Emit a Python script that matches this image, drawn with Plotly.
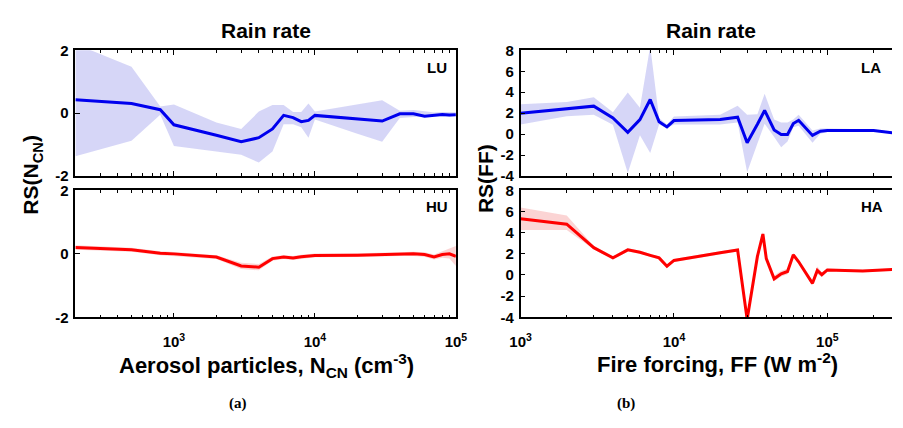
import math
import plotly.graph_objects as go

# ---- (a) response to aerosol particles, N_CN (cm^-3) ----
ncn_lu = [200, 500, 800, 1000, 2000, 3000, 4000, 5000, 6000, 7000, 8000, 9000,
          10000, 20000, 30000, 40000, 50000, 60000, 70000, 80000, 90000, 100000]
lu_mean = [0.43, 0.31, 0.11, -0.37, -0.70, -0.91, -0.78, -0.50, -0.07, -0.14, -0.27, -0.23,
           -0.07, -0.18, -0.25, -0.02, -0.02, -0.10, -0.08, -0.04, -0.06, -0.05]
lu_upper = [2.20, 1.48, 0.21, 0.28, -0.30, -0.50, 0.05, 0.26, 0.26, 0.04, 0.04, 0.31,
            0.05, 0.28, 0.41, 0.08, 0.10, 0.06, 0.02, 0.04, 0.04, 0.03]
lu_lower = [-1.37, -0.88, -0.05, -1.04, -1.22, -1.32, -1.57, -1.22, -0.35, -0.35, -0.45, -0.78,
            -0.20, -0.65, -0.91, -0.15, -0.12, -0.12, -0.10, -0.10, -0.12, -0.08]

ncn_hu = ncn_lu
hu_mean = [0.20, 0.13, 0.02, 0.00, -0.10, -0.38, -0.42, -0.15, -0.10, -0.13, -0.09, -0.07,
           -0.05, -0.04, -0.03, -0.01, 0.00, -0.02, -0.10, -0.02, 0.00, -0.08]
hu_upper = [0.27, 0.19, 0.08, 0.06, -0.04, -0.28, -0.32, -0.08, -0.04, -0.07, -0.03, -0.01,
            0.01, 0.02, 0.03, 0.05, 0.07, 0.05, -0.02, 0.08, 0.15, 0.25]
hu_lower = [0.13, 0.07, -0.04, -0.06, -0.16, -0.48, -0.52, -0.22, -0.16, -0.19, -0.15, -0.13,
            -0.11, -0.10, -0.09, -0.07, -0.07, -0.09, -0.18, -0.12, -0.15, -0.38]

# ---- (b) response to fire forcing, FF (W m^-2) ----
ff_la = [1000, 2000, 3000, 4000, 5000, 6000, 7000, 8000, 9000, 10000, 20000, 26000,
         30000, 35000, 39000, 45000, 50000, 55000, 60000, 65000, 80000, 90000, 100000,
         200000, 300000]
la_mean = [2.00, 2.46, 2.67, 1.54, 0.17, 1.39, 3.31, 1.18, 0.69, 1.30, 1.40, 1.62,
           -0.82, 0.95, 2.26, 0.40, -0.03, -0.03, 1.01, 1.32, -0.12, 0.28, 0.35,
           0.35, 0.05]
la_upper = [2.85, 3.07, 3.52, 2.09, 3.98, 2.52, 8.40, 1.54, 0.93, 1.69, 1.85, 2.72,
            1.85, 1.90, 3.85, 1.40, 1.10, 1.10, 1.40, 1.86, 0.35, 0.55, 0.55,
            0.45, 0.12]
la_lower = [0.93, 1.70, 1.85, 0.90, -3.70, -0.10, -1.80, 0.93, 0.57, 0.93, 0.93, 1.10,
            -3.63, -0.88, 1.00, -0.27, -1.25, -0.70, 0.65, 0.80, -0.82, 0.05, 0.20,
            0.25, -0.05]

ff_ha = [1000, 2000, 3000, 4000, 5000, 6000, 7000, 8000, 9000, 10000, 20000, 26000,
         30000, 35000, 38000, 40000, 45000, 50000, 55000, 60000, 65000, 80000, 86000,
         92000, 100000, 170000, 300000]
ha_mean = [5.33, 4.81, 2.59, 1.62, 2.38, 2.15, 1.86, 1.62, 0.83, 1.38, 2.10, 2.36,
           -4.20, 1.76, 3.88, 1.55, -0.36, 0.12, 0.33, 1.91, 1.25, -0.79, 0.43,
           0.03, 0.48, 0.39, 0.55]
ha_upper = [6.39, 5.63, 2.75, 1.78, 2.55, 2.30, 2.00, 1.78, 0.98, 1.52, 2.25, 2.50,
            -4.05, 1.95, 4.10, 1.75, -0.05, 0.40, 0.60, 2.10, 1.40, -0.55, 0.80,
            0.25, 0.62, 0.50, 0.65]
ha_lower = [4.26, 4.26, 2.43, 1.46, 2.22, 2.00, 1.72, 1.46, 0.68, 1.24, 1.95, 2.22,
            -4.35, 1.57, 3.65, 1.35, -0.60, -0.15, 0.08, 1.72, 1.10, -1.00, 0.10,
            -0.20, 0.34, 0.28, 0.45]

panel_names = ["LU", "HU", "LA", "HA"]
title_text = "Rain rate"

BLUE = "#0000ee"
RED = "#ff0000"
BLUE_FILL = "rgba(70,70,220,0.22)"
RED_FILL = "rgba(235,60,60,0.22)"
FONT = "Liberation Sans, Arial, sans-serif"

fig = go.Figure()


def add_panel(idx, x, mean, upper, lower, line_color, fill_color):
    xa = "x" if idx == 1 else f"x{idx}"
    ya = "y" if idx == 1 else f"y{idx}"
    # shaded spread around the mean
    fig.add_trace(go.Scatter(
        x=list(x) + list(x)[::-1], y=list(upper) + list(lower)[::-1],
        fill="toself", fillcolor=fill_color, line=dict(width=0),
        mode="lines", hoverinfo="skip", showlegend=False, xaxis=xa, yaxis=ya))
    # mean response
    fig.add_trace(go.Scatter(
        x=x, y=mean, mode="lines", line=dict(color=line_color, width=3),
        showlegend=False, xaxis=xa, yaxis=ya))


add_panel(1, ncn_lu, lu_mean, lu_upper, lu_lower, BLUE, BLUE_FILL)
add_panel(2, ncn_hu, hu_mean, hu_upper, hu_lower, RED, RED_FILL)
add_panel(3, ff_la, la_mean, la_upper, la_lower, BLUE, BLUE_FILL)
add_panel(4, ff_ha, ha_mean, ha_upper, ha_lower, RED, RED_FILL)

W, H = 903, 428
left_dom = [66 / W, 456 / W]
right_dom = [522.3 / W, 1.0]
top_dom = [1 - 174 / H, 1 - 43 / H]
bot_dom = [1 - 321 / H, 1 - 189 / H]

tickfont = dict(family=FONT, size=15, color="black", weight="bold")

minor_left = [m * 10 ** e for e in (2, 3, 4) for m in range(2, 10) if 200 <= m * 10 ** e <= 100000]
minor_right = [m * 10 ** e for e in (3, 4, 5) for m in range(2, 10) if m * 10 ** e <= 260000]


def xaxis_cfg(domain, rng, majors, minors, anchor, labels):
    return dict(
        type="log", domain=domain, range=rng, anchor=anchor,
        tickmode="array", tickvals=majors,
        ticktext=[f"10<sup>{len(str(v)) - 1}</sup>" for v in majors],
        showticklabels=labels, ticks="inside", ticklen=5, tickwidth=1.2,
        tickcolor="black", minor=dict(tickmode="array", tickvals=minors, ticks="inside",
                                      ticklen=3, tickwidth=1, tickcolor="black"),
        showline=True, linecolor="black", linewidth=1.5, mirror="ticks",
        showgrid=False, zeroline=False, tickfont=tickfont, ticklabelstandoff=10,
        fixedrange=True)


def yaxis_cfg(domain, rng, vals, anchor, mirror):
    return dict(
        domain=domain, range=rng, anchor=anchor, tickmode="array", tickvals=vals,
        ticktext=[str(v) for v in vals], ticks="inside", ticklen=5, tickwidth=1.2,
        tickcolor="black", showline=True, linecolor="black", linewidth=1.5,
        mirror=mirror, showgrid=False, zeroline=False, tickfont=tickfont,
        ticklabelstandoff=2, fixedrange=True)


left_rng = [math.log10(200), 5]
right_rng = [3, 5.4215]

fig.update_layout(
    width=W, height=H, margin=dict(l=0, r=0, t=0, b=0),
    paper_bgcolor="white", plot_bgcolor="white", showlegend=False,
    xaxis=xaxis_cfg(left_dom, left_rng, [1000, 10000, 100000], minor_left, "y", False),
    yaxis=yaxis_cfg(top_dom, [-2, 2], [-2, 0, 2], "x", True),
    xaxis2=xaxis_cfg(left_dom, left_rng, [1000, 10000, 100000], minor_left, "y2", True),
    yaxis2=yaxis_cfg(bot_dom, [-2, 2], [-2, 0, 2], "x2", True),
    xaxis3=xaxis_cfg(right_dom, right_rng, [1000, 10000, 100000], minor_right, "y3", False),
    yaxis3=yaxis_cfg(top_dom, [-4, 8], [-4, -2, 0, 2, 4, 6, 8], "x3", False),
    xaxis4=xaxis_cfg(right_dom, right_rng, [1000, 10000, 100000], minor_right, "y4", True),
    yaxis4=yaxis_cfg(bot_dom, [-4, 8], [-4, -2, 0, 2, 4, 6, 8], "x4", False),
)


def bold(size):
    return dict(family=FONT, size=size, color="black", weight="bold")


def note(x, y, text, size, angle=0, font=None):
    fig.add_annotation(x=x / W, y=1 - y / H, xref="paper", yref="paper", text=text,
                       showarrow=False, textangle=angle, font=font or bold(size),
                       xanchor="center", yanchor="middle")


# titles
note(261, 22, title_text, 21)
note(717, 22, title_text, 21)
# panel labels
note(437, 61, panel_names[0], 15)
note(437, 206, panel_names[1], 15)
note(881, 61, panel_names[2], 15)
note(882, 206, panel_names[3], 15)
# axis titles
note(262, 371, "Aerosol particles, N<sub>CN</sub> (cm<sup>-3</sup>)", 22)
note(724, 369, "Fire forcing, FF (W m<sup>-2</sup>)", 22)
note(22, 172, "RS(N<sub>CN</sub>)", 21, angle=-90)
note(487, 177, "RS(FF)", 21, angle=-90)
# sub-figure captions
cap = dict(family="Liberation Serif, Times New Roman, serif", size=15, color="black", weight="bold")
note(233, 411, "(a)", 15, font=cap)
note(630, 411, "(b)", 15, font=cap)

fig.write_html("out.html")
